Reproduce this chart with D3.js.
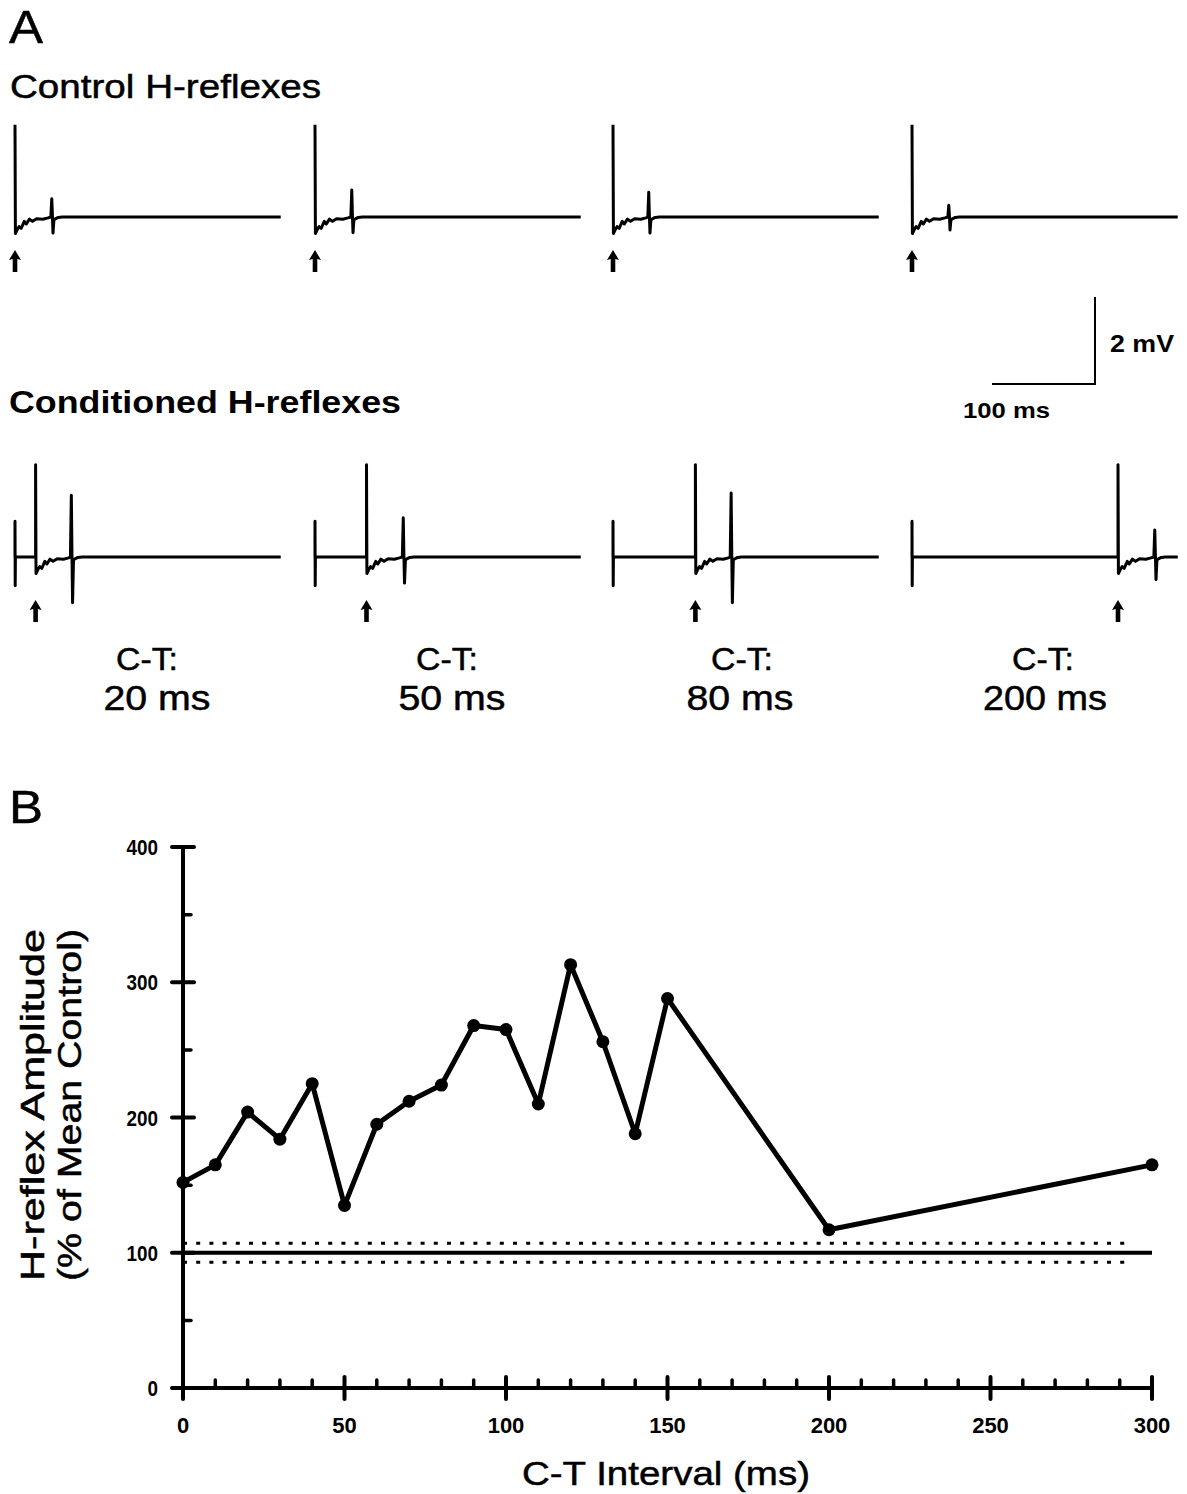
<!DOCTYPE html>
<html lang="en">
<head>
<meta charset="UTF-8">
<title>H-reflex conditioning</title>
<script src="https://d3js.org/d3.v7.min.js"></script>
<style>
  body { margin: 0; background: #fff; }
  svg { display: block; font-family: "Liberation Sans", Arial, sans-serif; }
  .heavy { stroke: #000; stroke-width: 0.5px; }
</style>
</head>
<body>
<svg width="1187" height="1494"></svg>
<script>
// ---- panel A data (ms, mV) ----
const ctIntervals = [20, 50, 80, 200];
const ctLabels = ["20 ms", "50 ms", "80 ms", "200 ms"];
// test stimulus artifact: peak, dip after it
const stimArtifact = [2.12, -0.38];
// conditioning stimulus artifact: peak, trough
const condArtifact = [0.82, -0.66];
// ripple after the test stimulus (ms after stim, mV)
const ripple = [[2, -0.3], [4, -0.22], [6, -0.26], [9, -0.1], [11, -0.16], [14, -0.05], [17, -0.1], [21, -0.04], [27, -0.05], [32, -0.02]];
// H-wave: latency (ms), peak (mV), trough (mV)
const controlH = [[36, 0.42, -0.37], [36, 0.62, -0.36], [35, 0.57, -0.37], [36, 0.27, -0.3]];
const condH = [[35, 1.42, -1.05], [36, 0.9, -0.6], [35, 1.47, -1.05], [36, 0.62, -0.52]];
const sweepMs = 258;

// ---- panel B data ----
const ctMs = [0, 10, 20, 30, 40, 50, 60, 70, 80, 90, 100, 110, 120, 130, 140, 150, 200, 300];
const amplitude = [152, 165, 204, 184, 225, 135, 195, 212, 224, 268, 265, 210, 313, 256, 188, 288, 117, 165];
const controlMean = 100;
const controlBand = [107, 93];
const xTicks = [0, 50, 100, 150, 200, 250, 300];
const yTicks = [0, 100, 200, 300, 400];

const svg = d3.select("svg");

// ---------- panel A ----------
const panelX = [15, 315, 613, 912];
const tx = d3.scaleLinear().domain([0, 100]).range([0, 103]);
const ty = d3.scaleLinear().domain([0, 2]).range([0, -87]);

function sweep(cond, ct, h) {
  const pts = [];
  let t0 = 0;
  if (cond) {
    pts.push([0, 0], [0, condArtifact[0]], [0.2, condArtifact[1]], [0.4, 0], [ct, 0]);
    t0 = ct;
  }
  pts.push([t0, stimArtifact[0]], [t0 + 0.4, stimArtifact[1]]);
  ripple.forEach(([t, v]) => pts.push([t0 + t, v]));
  const [lat, up, down] = h;
  pts.push([t0 + lat - 1.2, 0], [t0 + lat - 0.3, up], [t0 + lat + 0.3, 0.05],
           [t0 + lat + 0.9, down], [t0 + lat + 1.8, -0.06], [t0 + lat + 6, -0.01], [t0 + lat + 10, 0]);
  pts.push([sweepMs, 0]);
  return pts.filter(p => p[0] <= sweepMs);
}

const line = d3.line().x(d => tx(d[0])).y(d => ty(d[1]));

function arrow(g, x, y) {
  g.append("path")
    .attr("d", `M${x},${y} L${x + 6},${y + 10} L${x + 2.3},${y + 9} L${x + 2.3},${y + 22} L${x - 2.3},${y + 22} L${x - 2.3},${y + 9} L${x - 6},${y + 10} Z`)
    .attr("fill", "#000");
}

svg.append("text").attr("class", "heavy").attr("x", 9).attr("y", 43).attr("font-size", 46)
  .attr("textLength", 34).attr("lengthAdjust", "spacingAndGlyphs").text("A");
svg.append("text").attr("class", "heavy").attr("x", 10).attr("y", 98).attr("font-size", 33)
  .attr("textLength", 311).attr("lengthAdjust", "spacingAndGlyphs").text("Control H-reflexes");
svg.append("text").attr("x", 9).attr("y", 413).attr("font-size", 32).attr("font-weight", "bold")
  .attr("textLength", 392).attr("lengthAdjust", "spacingAndGlyphs").text("Conditioned H-reflexes");

controlH.forEach((h, i) => {
  const g = svg.append("g").attr("transform", `translate(${panelX[i]},217)`);
  g.append("path").datum(sweep(false, 0, h)).attr("d", line)
    .attr("fill", "none").attr("stroke", "#000").attr("stroke-width", 3).attr("stroke-linejoin", "round");
  arrow(g, tx(0), 33);
});

const ctCenters = [147, 447, 742, 1043];
const msCenters = [157, 452, 740, 1045];
condH.forEach((h, i) => {
  const g = svg.append("g").attr("transform", `translate(${panelX[i]},557)`);
  g.append("path").datum(sweep(true, ctIntervals[i], h)).attr("d", line)
    .attr("fill", "none").attr("stroke", "#000").attr("stroke-width", 3).attr("stroke-linejoin", "round");
  arrow(g, tx(ctIntervals[i]), 43);
  svg.append("text").attr("class", "heavy").attr("x", ctCenters[i]).attr("y", 670).attr("text-anchor", "middle")
    .attr("font-size", 32).attr("textLength", 62).attr("lengthAdjust", "spacingAndGlyphs").text("C-T:");
  svg.append("text").attr("class", "heavy").attr("x", msCenters[i]).attr("y", 710).attr("text-anchor", "middle")
    .attr("font-size", 35).attr("textLength", ctLabels[i].length === 5 ? 107 : 124)
    .attr("lengthAdjust", "spacingAndGlyphs").text(ctLabels[i]);
});

// scale bar
const sb = svg.append("g").attr("transform", "translate(1095,384)");
sb.append("path").attr("d", `M${-tx(100)},0 H0 V${ty(2)}`)
  .attr("fill", "none").attr("stroke", "#000").attr("stroke-width", 2);
sb.append("text").attr("x", 15).attr("y", -32).attr("font-size", 23).attr("font-weight", "bold")
  .attr("textLength", 64).attr("lengthAdjust", "spacingAndGlyphs").text("2 mV");
sb.append("text").attr("x", -132).attr("y", 34).attr("font-size", 22).attr("font-weight", "bold")
  .attr("textLength", 87).attr("lengthAdjust", "spacingAndGlyphs").text("100 ms");

// ---------- panel B ----------
const x = d3.scaleLinear().domain([0, 300]).range([183, 1152]);
const y = d3.scaleLinear().domain([0, 400]).range([1388, 847]);

svg.append("text").attr("class", "heavy").attr("x", 9).attr("y", 823).attr("font-size", 46)
  .attr("textLength", 34).attr("lengthAdjust", "spacingAndGlyphs").text("B");

const ax = svg.append("g").attr("stroke", "#000").attr("stroke-linecap", "round");
ax.append("line").attr("x1", x(0)).attr("x2", x(300)).attr("y1", y(0)).attr("y2", y(0)).attr("stroke-width", 4);
ax.append("line").attr("x1", x(0)).attr("x2", x(0)).attr("y1", y(0)).attr("y2", y(400)).attr("stroke-width", 4);
ax.selectAll(".xmaj").data(xTicks).join("line")
  .attr("x1", d => x(d)).attr("x2", d => x(d)).attr("y1", y(0) - 11).attr("y2", y(0) + 11).attr("stroke-width", 4);
ax.selectAll(".xmin").data(d3.range(10, 300, 10).filter(d => d % 50)).join("line")
  .attr("x1", d => x(d)).attr("x2", d => x(d)).attr("y1", y(0) - 8).attr("y2", y(0)).attr("stroke-width", 3.5);
ax.selectAll(".ymaj").data(yTicks).join("line")
  .attr("x1", x(0) - 11).attr("x2", x(0) + 11).attr("y1", d => y(d)).attr("y2", d => y(d)).attr("stroke-width", 4);
ax.selectAll(".ymin").data([50, 150, 250, 350]).join("line")
  .attr("x1", x(0)).attr("x2", x(0) + 8).attr("y1", d => y(d)).attr("y2", d => y(d)).attr("stroke-width", 3.5);

svg.selectAll(".xlab").data(xTicks).join("text")
  .attr("x", d => x(d)).attr("y", 1433).attr("text-anchor", "middle")
  .attr("font-size", 22).attr("font-weight", "bold").text(d => d);
svg.selectAll(".ylab").data(yTicks).join("text")
  .attr("x", 158).attr("y", d => y(d) + 8).attr("text-anchor", "end")
  .attr("font-size", 22).attr("font-weight", "bold")
  .attr("textLength", d => String(d).length * 10.5).attr("lengthAdjust", "spacingAndGlyphs").text(d => d);

svg.append("text").attr("class", "heavy").attr("x", 666).attr("y", 1485).attr("text-anchor", "middle")
  .attr("font-size", 34).attr("textLength", 288).attr("lengthAdjust", "spacingAndGlyphs").text("C-T Interval (ms)");
const yt = svg.append("g").attr("transform", "translate(0,1105) rotate(-90)").attr("text-anchor", "middle").attr("font-size", 33);
yt.append("text").attr("class", "heavy").attr("x", 0).attr("y", 44).attr("textLength", 352)
  .attr("lengthAdjust", "spacingAndGlyphs").text("H-reflex Amplitude");
yt.append("text").attr("class", "heavy").attr("x", 0).attr("y", 81).attr("textLength", 352)
  .attr("lengthAdjust", "spacingAndGlyphs").text("(% of Mean Control)");

// control reference lines
svg.append("line").attr("x1", x(0)).attr("x2", x(300)).attr("y1", y(controlMean)).attr("y2", y(controlMean))
  .attr("stroke", "#000").attr("stroke-width", 4);
svg.selectAll(".band").data(controlBand).join("line")
  .attr("x1", x(0)).attr("x2", x(293)).attr("y1", d => y(d)).attr("y2", d => y(d))
  .attr("stroke", "#000").attr("stroke-width", 3).attr("stroke-dasharray", "4 9.2");

// data
const pts = ctMs.map((c, i) => [c, amplitude[i]]);
svg.append("path").datum(pts)
  .attr("d", d3.line().x(d => x(d[0])).y(d => y(d[1])))
  .attr("fill", "none").attr("stroke", "#000").attr("stroke-width", 5).attr("stroke-linejoin", "round");
svg.selectAll(".pt").data(pts).join("circle")
  .attr("cx", d => x(d[0])).attr("cy", d => y(d[1])).attr("r", 6.5).attr("fill", "#000");
</script>
</body>
</html>
